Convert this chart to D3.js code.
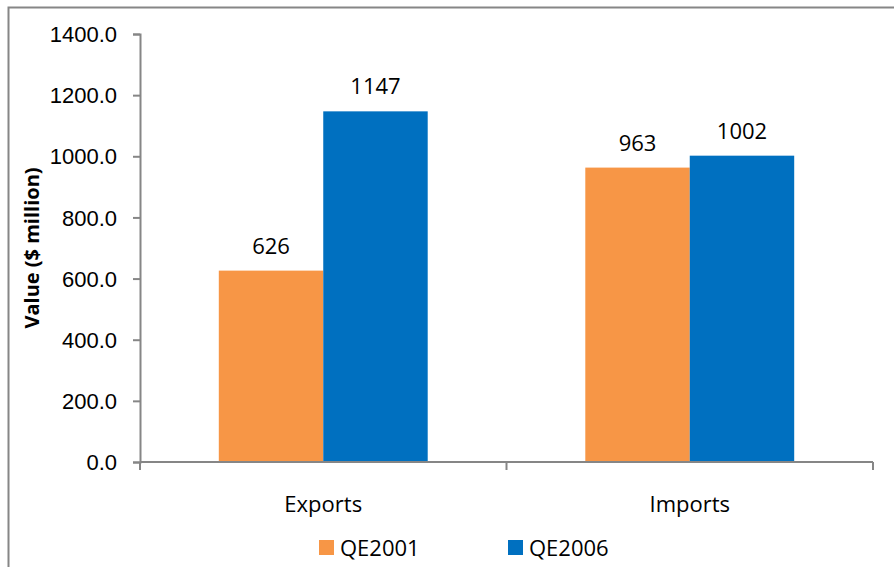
<!DOCTYPE html>
<html>
<head>
<meta charset="utf-8">
<script src="https://cdn.jsdelivr.net/npm/d3@7"></script>
<style>
  body { margin: 0; background: #fff; }
  svg { display: block; font-family: "Open Sans", "Noto Sans", sans-serif; }
  .axis path, .axis line { stroke: #868686; stroke-width: 2; }
  .axis text { fill: #000; font-size: 22px; }
</style>
</head>
<body>
<div id="chart"></div>
<script>
// data
var categories = ["Exports", "Imports"]
var seriesNames = ["QE2001", "QE2006"]
var qe2001 = [626, 963]
var qe2006 = [1147, 1002]
var seriesColors = ["#F79646", "#0070C0"]
var yTicks = [0, 200, 400, 600, 800, 1000, 1200, 1400]

var width = 894, height = 567
var margin = {left: 140, right: 21, top: 34, bottom: 105}

var svg = d3.select("#chart").append("svg")
  .attr("width", width)
  .attr("height", height)

// outer frame
svg.append("rect")
  .attr("x", 8.5).attr("y", 7.5)
  .attr("width", 900).attr("height", 600)
  .attr("fill", "none")
  .attr("stroke", "#868686")
  .attr("stroke-width", 2)

var x = d3.scaleBand()
  .domain(categories)
  .range([margin.left, width - margin.right])
  .paddingInner(0.43)
  .paddingOuter(0.215)

var xFull = d3.scaleBand()
  .domain(categories)
  .range([margin.left, width - margin.right])

var xSub = d3.scaleBand()
  .domain(seriesNames)
  .range([0, x.bandwidth()])

var y = d3.scaleLinear()
  .domain([0, 1400])
  .range([height - margin.bottom, margin.top])

var series = seriesNames.map(function(name, i){
  var vals = i === 0 ? qe2001 : qe2006
  return categories.map(function(c, j){
    return {cat: c, name: name, value: vals[j], color: seriesColors[i]}
  })
})

// bars + value labels
series.forEach(function(s){
  svg.selectAll(null)
    .data(s)
    .enter().append("rect")
      .attr("x", function(d){ return x(d.cat) + xSub(d.name) })
      .attr("y", function(d){ return y(d.value) })
      .attr("width", xSub.bandwidth())
      .attr("height", function(d){ return y(0) - y(d.value) })
      .attr("fill", function(d){ return d.color })

  svg.selectAll(null)
    .data(s)
    .enter().append("text")
      .attr("x", function(d){ return x(d.cat) + xSub(d.name) + xSub.bandwidth() / 2 })
      .attr("y", function(d){ return y(d.value) - 17 })
      .attr("text-anchor", "middle")
      .attr("font-size", "22px")
      .text(function(d){ return d.value })
})

// y axis
var yAxis = svg.append("g")
  .attr("class", "axis")
  .attr("transform", "translate(" + margin.left + ",0)")
  .call(d3.axisLeft(y).tickValues(yTicks).tickSize(7).tickPadding(16)
    .tickFormat(function(d){ return d3.format(".1f")(d) }))
yAxis.selectAll("text").attr("dy", "0.35em")

// x axis
var xAxis = svg.append("g")
  .attr("class", "axis")
  .attr("transform", "translate(0," + y(0) + ")")
  .call(d3.axisBottom(xFull).tickSize(0).tickFormat(""))
xAxis.select(".domain").attr("d", "M" + margin.left + ",0H" + (width - margin.right))
var bounds = [margin.left].concat(categories.map(function(c){ return xFull(c) + xFull.bandwidth() }))
xAxis.selectAll(".sep")
  .data(bounds)
  .enter().append("line")
    .attr("x1", function(d){ return d }).attr("x2", function(d){ return d })
    .attr("y1", 0).attr("y2", 8)

svg.selectAll(".cat")
  .data(categories)
  .enter().append("text")
    .attr("x", function(d){ return xFull(d) + xFull.bandwidth() / 2 })
    .attr("y", y(0) + 50)
    .attr("text-anchor", "middle")
    .attr("font-size", "22px")
    .text(function(d){ return d })

// y title
svg.append("text")
  .attr("transform", "translate(39," + (y(0) + y(1400)) / 2 + ") rotate(-90)")
  .attr("text-anchor", "middle")
  .attr("font-size", "20px")
  .attr("font-weight", "bold")
  .text("Value ($ million)")

// legend
var legendX = [319, 508]
var legend = svg.selectAll(".legend")
  .data(seriesNames)
  .enter().append("g")
    .attr("transform", function(d, i){ return "translate(" + legendX[i] + ",540)" })
legend.append("rect")
  .attr("width", 15).attr("height", 15)
  .attr("fill", function(d, i){ return seriesColors[i] })
legend.append("text")
  .attr("x", 21).attr("y", 16)
  .attr("font-size", "22px")
  .text(function(d){ return d })
</script>
</body>
</html>
